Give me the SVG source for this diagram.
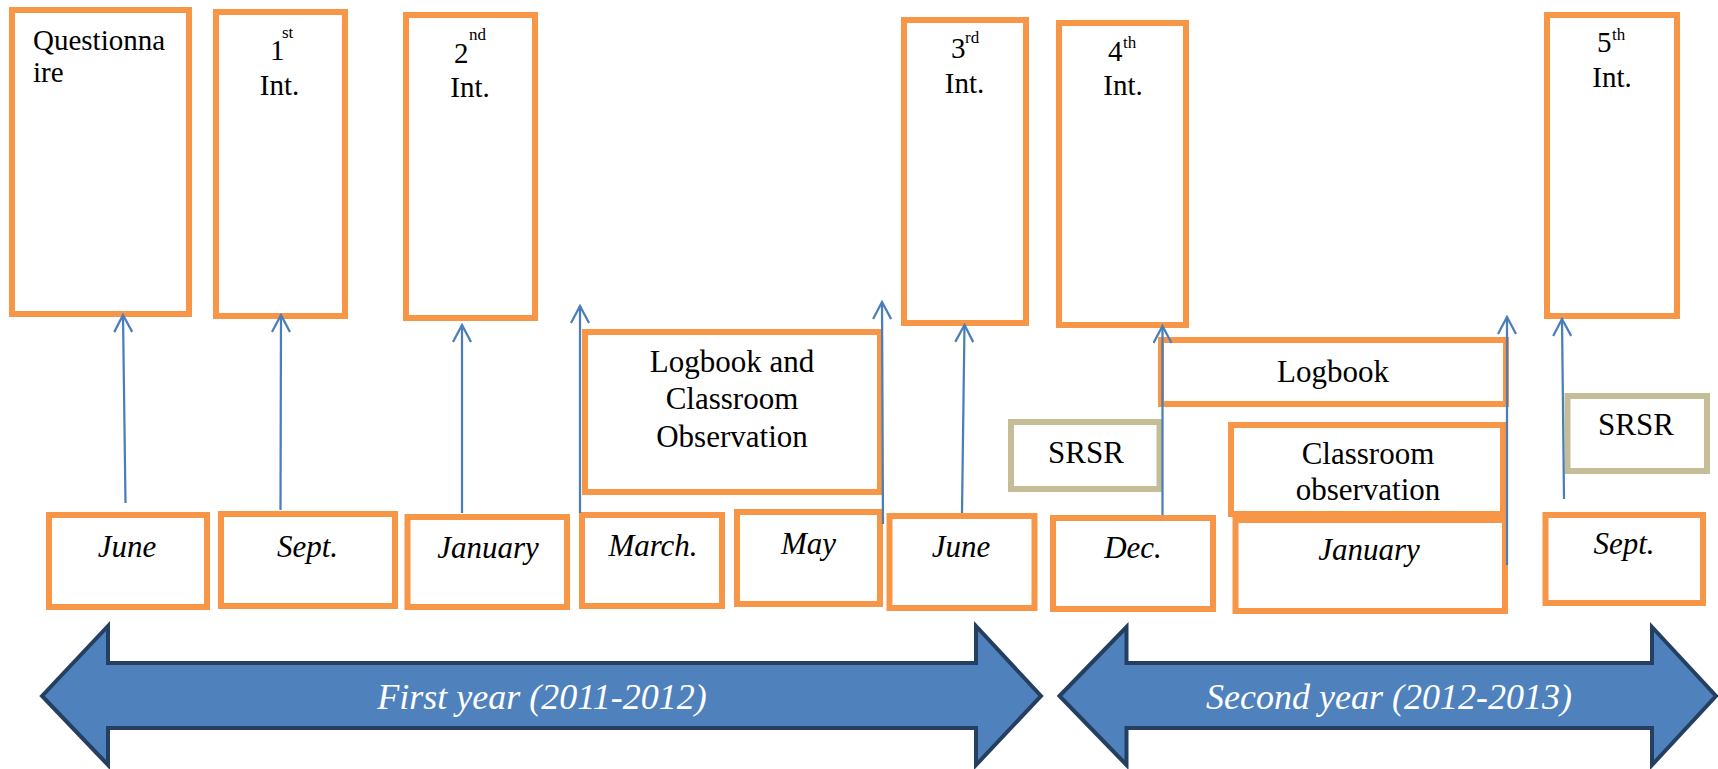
<svg xmlns="http://www.w3.org/2000/svg" width="1718" height="769" viewBox="0 0 1718 769">
<style>
.ob{fill:#fff;stroke:#F79646;stroke-width:6}
.kb{fill:#fff;stroke:#C4BD97;stroke-width:6}
.t{font-family:"Liberation Serif","Times New Roman",serif;fill:#000}
.r{font-size:31px}
.h{font-size:29px}
.s{font-size:17px}
.i{font-size:31px;font-style:italic}
.m{text-anchor:middle}
.c{fill:none;stroke:#4A7EBB;stroke-width:2.25;marker-end:url(#ah)}
.big{fill:#4F81BD;stroke:#243F60;stroke-width:4;stroke-linejoin:miter}
.w{font-family:"Liberation Serif","Times New Roman",serif;font-style:italic;font-size:36px;fill:#fff;text-anchor:middle}
</style>
<defs>
<marker id="ah" viewBox="0 0 20 20" refX="18" refY="10" markerWidth="20" markerHeight="20" markerUnits="userSpaceOnUse" orient="auto">
<path d="M1,1 L18,10 L1,19" fill="none" stroke="#4A7EBB" stroke-width="2.25"/>
</marker>
</defs>
<rect width="1718" height="769" fill="#fff"/>

<g id="year1"><path class="big" d="M42,696 L108,626 L108,663 L976,663 L976,626 L1041,696 L976,765 L976,728 L108,728 L108,765 Z"/><text class="w" x="542" y="709">First year (2011-2012)</text></g>
<g id="year2"><path class="big" d="M1059.5,696 L1126.5,627 L1126.5,663 L1652,663 L1652,627 L1716,696 L1652,765 L1652,728 L1126.5,728 L1126.5,765 Z"/><text class="w" x="1389" y="709">Second year (2012-2013)</text></g>

<g id="questionnaire"><rect class="ob" x="12" y="10" width="177" height="304"/><text class="t h" x="33" y="50">Questionna</text><text class="t h" x="33" y="82">ire</text></g>
<g id="int1"><rect class="ob" x="216" y="12" width="129" height="304"/><text class="t h" x="270" y="60">1</text><text class="t s" x="282" y="38">st</text><text class="t h m" x="279.5" y="95">Int.</text></g>
<g id="int2"><rect class="ob" x="406" y="15" width="129" height="303"/><text class="t h" x="454" y="63">2</text><text class="t s" x="469" y="40">nd</text><text class="t h m" x="470" y="97">Int.</text></g>
<g id="int3"><rect class="ob" x="904" y="20" width="122" height="303"/><text class="t h" x="951" y="58">3</text><text class="t s" x="965" y="43">rd</text><text class="t h m" x="964.5" y="93">Int.</text></g>
<g id="int4"><rect class="ob" x="1059" y="23" width="127" height="302"/><text class="t h" x="1108" y="61">4</text><text class="t s" x="1123" y="48">th</text><text class="t h m" x="1123" y="95">Int.</text></g>
<g id="int5"><rect class="ob" x="1547" y="15" width="130" height="301"/><text class="t h" x="1597" y="52">5</text><text class="t s" x="1612" y="40">th</text><text class="t h m" x="1612" y="87">Int.</text></g>

<g id="lco"><rect class="ob" x="585" y="332" width="295" height="160"/><text class="t r m" x="732" y="372">Logbook and</text><text class="t r m" x="732" y="409">Classroom</text><text class="t r m" x="732" y="447">Observation</text></g>
<g id="logbook"><rect class="ob" x="1161" y="340" width="345" height="64"/><text class="t r m" x="1333" y="382">Logbook</text></g>
<g id="co"><rect class="ob" x="1231" y="425" width="272" height="89"/><text class="t r m" x="1368" y="464">Classroom</text><text class="t r m" x="1368" y="500">observation</text></g>
<g id="srsr1"><rect class="kb" x="1011" y="422" width="148.5" height="67"/><text class="t r m" x="1086" y="463">SRSR</text></g>
<g id="srsr2"><rect class="kb" x="1567.5" y="396" width="139.5" height="75"/><text class="t r m" x="1636" y="435">SRSR</text></g>

<g id="june1"><rect class="ob" x="49" y="515" width="158" height="92"/><text class="t i m" x="127" y="557">June</text></g>
<g id="sept1"><rect class="ob" x="221" y="514" width="174" height="92"/><text class="t i m" x="307.5" y="557">Sept.</text></g>
<g id="jan1"><rect class="ob" x="407.5" y="517" width="159.5" height="90"/><text class="t i m" x="488" y="558">January</text></g>
<g id="march"><rect class="ob" x="582" y="515" width="140" height="91"/><text class="t i m" x="653" y="556">March.</text></g>
<g id="may"><rect class="ob" x="737" y="512" width="143" height="92"/><text class="t i m" x="808.5" y="554">May</text></g>
<g id="june2"><rect class="ob" x="889.5" y="516" width="145" height="92"/><text class="t i m" x="961" y="557">June</text></g>
<g id="dec"><rect class="ob" x="1053" y="518" width="160" height="91"/><text class="t i m" x="1133" y="558">Dec.</text></g>
<g id="jan2"><rect class="ob" x="1235.5" y="520" width="269.5" height="91"/><text class="t i m" x="1369" y="560">January</text></g>
<g id="sept2"><rect class="ob" x="1545.5" y="515" width="157.5" height="88"/><text class="t i m" x="1624" y="554">Sept.</text></g>

<g id="connectors">
<path class="c" d="M125.5,503 L123,315"/>
<path class="c" d="M280.5,510 L281,315"/>
<path class="c" d="M462,513 L462,325"/>
<path class="c" d="M580,513 L580,306"/>
<path class="c" d="M883,524 L882,302"/>
<path class="c" d="M962,513 L964.5,325"/>
<path class="c" d="M1162.5,515 L1162.5,326"/>
<path class="c" d="M1507,565 L1507,317"/>
<path class="c" d="M1564,499 L1562,319"/>
</g>
</svg>
